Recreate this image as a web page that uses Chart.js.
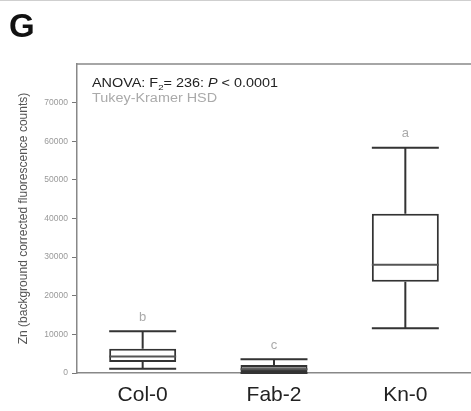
<!DOCTYPE html>
<html><head><meta charset="utf-8">
<style>html,body{margin:0;padding:0;background:#fff;}#wrap{width:471px;height:411px;position:relative;overflow:hidden;}</style>
<script src="https://cdn.jsdelivr.net/npm/chart.js@4/dist/chart.umd.min.js"></script>
</head><body><div id="wrap"><canvas id="c" width="471" height="411"></canvas></div>
<script>
// ---- data ----
const categories = ['Col-0', 'Fab-2', 'Kn-0'];
const whiskerMin = [1100, 0, 11600];
const q1 = [2850, 250, 23600];
const median = [4300, 1000, 28000];
const q3 = [6300, 2050, 41200];
const whiskerMax = [10800, 3550, 58300];
const groupLetters = ['b', 'c', 'a'];
const yTickValues = [0, 10000, 20000, 30000, 40000, 50000, 60000, 70000];
const yAxisTitle = 'Zn (background corrected fluorescence counts)';
const panelLabel = 'G';
const statsLine2 = 'Tukey-Kramer HSD';

const FONT = "'Liberation Sans', Arial, Helvetica, sans-serif";
const boxFills = ['#ffffff', '#8c8c8c', '#ffffff'];

const boxPlugin = {
  id: 'boxParts',
  afterDatasetsDraw(chart) {
    const ctx = chart.ctx;
    const xs = chart.scales.x, ys = chart.scales.y;
    const meta = chart.getDatasetMeta(0);
    ctx.save();
    ctx.lineWidth = 2;
    categories.forEach((c, i) => {
      const x = xs.getPixelForValue(i);
      const hw = meta.data[i].width / 2;
      const yMax = ys.getPixelForValue(whiskerMax[i]);
      const yMin = ys.getPixelForValue(whiskerMin[i]);
      const yQ1 = ys.getPixelForValue(q1[i]);
      const yQ3 = ys.getPixelForValue(q3[i]);
      const yMed = ys.getPixelForValue(median[i]);
      ctx.strokeStyle = '#333';
      ctx.beginPath();
      ctx.moveTo(x, yQ3); ctx.lineTo(x, yMax);
      ctx.moveTo(x, yQ1); ctx.lineTo(x, yMin);
      ctx.moveTo(x - hw, yMax); ctx.lineTo(x + hw, yMax);
      ctx.moveTo(x - hw, yMin); ctx.lineTo(x + hw, yMin);
      ctx.stroke();
      ctx.beginPath();
      ctx.strokeStyle = '#555';
      ctx.moveTo(x - hw, yMed); ctx.lineTo(x + hw, yMed);
      ctx.stroke();
      // group letters
      ctx.fillStyle = '#aaa';
      ctx.font = '13px ' + FONT;
      ctx.textAlign = 'center';
      ctx.textBaseline = 'middle';
      ctx.fillText(groupLetters[i], x, yMax - 14);
    });
    ctx.restore();
  },
  afterDraw(chart) {
    const ctx = chart.ctx;
    const a = chart.chartArea;
    ctx.save();
    // top frame line
    ctx.strokeStyle = '#888';
    ctx.lineWidth = 1.5;
    ctx.beginPath();
    ctx.moveTo(a.left, a.top); ctx.lineTo(a.right, a.top);
    ctx.stroke();
    // thin top border of figure
    ctx.strokeStyle = '#cfcfcf';
    ctx.lineWidth = 2;
    ctx.beginPath(); ctx.moveTo(0, 0); ctx.lineTo(chart.width, 0); ctx.stroke();
    // panel label
    ctx.fillStyle = '#111';
    ctx.font = 'bold 33px ' + FONT;
    ctx.textAlign = 'left';
    ctx.textBaseline = 'alphabetic';
    ctx.fillText(panelLabel, 9, 37);
    // stats text (stretched horizontally)
    const sx = 1.2;
    const x0 = a.left + 15, y0 = a.top + 23;
    ctx.translate(x0, y0);
    ctx.scale(sx, 1);
    let cx = 0;
    const put = (t, font, dy) => {
      ctx.font = font;
      ctx.fillText(t, cx, dy || 0);
      cx += ctx.measureText(t).width;
    };
    ctx.fillStyle = '#222';
    put('ANOVA: F', '12px ' + FONT);
    put('2', '8px ' + FONT, 3);
    put('= 236: ', '12px ' + FONT);
    put('P', 'italic 12px ' + FONT);
    put(' < 0.0001', '12px ' + FONT);
    cx = 0;
    ctx.fillStyle = '#aaa';
    put(statsLine2, '12px ' + FONT, 15);
    ctx.restore();
  }
};

new Chart(document.getElementById('c'), {
  type: 'bar',
  data: {
    labels: categories,
    datasets: [{
      data: categories.map((c, i) => [q1[i], q3[i]]),
      backgroundColor: boxFills,
      borderColor: '#333',
      borderWidth: 2,
      borderSkipped: false,
      categoryPercentage: 1,
      barPercentage: 0.51
    }]
  },
  options: {
    responsive: false,
    devicePixelRatio: 1,
    animation: false,
    layout: { padding: { top: 64, left: 0, right: 0, bottom: 0 } },
    plugins: { legend: { display: false }, tooltip: { enabled: false } },
    scales: {
      x: {
        type: 'category',
        offset: true,
        grid: { display: false, drawTicks: false },
        border: { display: true, color: '#888', width: 1.5 },
        ticks: { font: { size: 21, family: FONT }, color: '#222', padding: 10 },
        afterFit: s => { s.height = 38; }
      },
      y: {
        min: 0, max: 80000,
        afterBuildTicks: s => { s.ticks = yTickValues.map(v => ({ value: v })); },
        grid: { display: true, drawOnChartArea: false, drawTicks: true, tickLength: 5, color: '#777', lineWidth: 1 },
        border: { display: true, color: '#888', width: 1.5 },
        ticks: { font: { size: 8.5, family: FONT }, color: '#999', padding: 4, callback: v => String(v) },
        title: { display: true, text: yAxisTitle, font: { size: 12, family: FONT }, color: '#555', padding: { top: 16, bottom: 0 } },
        afterFit: s => { s.width = 77; }
      }
    }
  },
  plugins: [boxPlugin]
});
</script>
</body></html>
